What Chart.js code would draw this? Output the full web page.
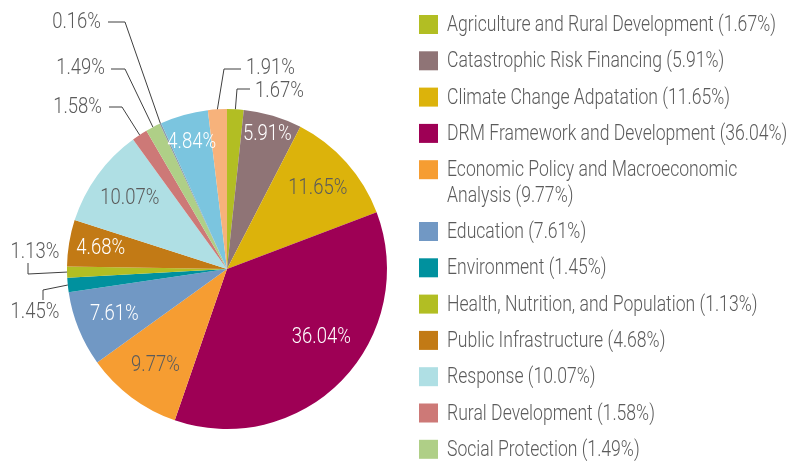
<!DOCTYPE html>
<html>
<head>
<meta charset="utf-8">
<script src="https://cdn.jsdelivr.net/npm/chart.js@4"></script>
<style>
  html, body { margin: 0; padding: 0; background: #fff; }
  #wrap { width: 787px; height: 461px; position: relative; }
</style>
</head>
<body>
<div id="wrap"><canvas id="myChart" width="787" height="461"></canvas></div>
<script>
// funding share by sector, clockwise from the top
const sectors = [
    "Agriculture and Rural Development",
    "Catastrophic Risk Financing",
    "Climate Change Adpatation",
    "DRM Framework and Development",
    "Economic Policy and Macroeconomic Analysis",
    "Education",
    "Environment",
    "Health, Nutrition, and Population",
    "Public Infrastructure",
    "Response",
    "Rural Development",
    "Social Protection",
    "Transport",
    "Urban Development",
    "Water"
];
const shares = [1.67, 5.91, 11.65, 36.04, 9.77, 7.61, 1.45, 1.13, 4.68, 10.07, 1.58, 1.49, 0.16, 4.84, 1.91];

const colors = [
    "#b2be23", "#8f7476", "#dcb30b", "#9e0055", "#f69d32",
    "#7198c4", "#00919e", "#b2be23", "#c27a15", "#afdfe4",
    "#cd7977", "#afcf87", "#8c9aa8", "#7bc5df", "#f7b27b"
];

const GREY = "#5b5b5b";
const FONT = "300 22px Roboto";
const SX_LEGEND = 0.80; // squeeze text horizontally for a condensed look
const SX_PIE = 0.84;

// label layout per slice: inside labels sit at a fraction of the radius,
// outside labels get a leader line through the listed points
const labelLayout = [
    { out: [[237, 89], [250, 89]], text: [255, 91], align: "left" },
    { r: 0.88, color: "#fff" },
    { r: 0.76, color: GREY },
    { r: 0.73, da: -8, color: "#fff" },
    { r: 0.75, color: GREY },
    { r: 0.76, color: "#fff" },
    { out: [[43, 290], [43, 300]], text: [35, 312], align: "center" },
    { out: [[28, 274], [28, 263]], text: [35, 252], align: "center" },
    { r: 0.8, color: "#fff" },
    { r: 0.75, color: GREY },
    { out: [[122, 107], [109, 107]], text: [102, 107], align: "right" },
    { out: [[125, 69], [111, 69]], text: [105, 68], align: "right" },
    { out: [[125, 22], [108, 22]], text: [101, 22], align: "right" },
    { r: 0.82, color: "#fff" },
    { out: [[224, 69], [241, 69]], text: [246, 68], align: "left" }
];

function squeezedText(ctx, text, x, y, align, color, sx) {
    ctx.save();
    ctx.translate(x, y);
    ctx.scale(sx, 1);
    ctx.fillStyle = color;
    ctx.textAlign = align;
    ctx.textBaseline = "middle";
    ctx.fillText(text, 0, 0);
    ctx.restore();
}

const pieLabels = {
    id: "pieLabels",
    afterDatasetsDraw(chart) {
        const ctx = chart.ctx;
        const arcs = chart.getDatasetMeta(0).data;
        ctx.save();
        ctx.font = FONT;
        arcs.forEach((arc, i) => {
            const spec = labelLayout[i];
            const txt = shares[i].toFixed(2) + "%";
            const mid = (arc.startAngle + arc.endAngle) / 2;
            if (spec.out) {
                const sx = arc.x + Math.cos(mid) * arc.outerRadius;
                const sy = arc.y + Math.sin(mid) * arc.outerRadius;
                ctx.beginPath();
                ctx.moveTo(sx, sy);
                spec.out.forEach(p => ctx.lineTo(p[0], p[1]));
                ctx.strokeStyle = "#3f3f3f";
                ctx.lineWidth = 1;
                ctx.stroke();
                squeezedText(ctx, txt, spec.text[0], spec.text[1], spec.align, GREY, SX_PIE);
            } else {
                const a = mid + (spec.da || 0) * Math.PI / 180;
                const rr = arc.outerRadius * spec.r;
                squeezedText(ctx, txt, arc.x + Math.cos(a) * rr, arc.y + Math.sin(a) * rr, "center", spec.color, SX_PIE);
            }
        });
        ctx.restore();
    }
};

// legend on the right, wrapping long names
const sideLegend = {
    id: "sideLegend",
    afterDraw(chart) {
        const ctx = chart.ctx;
        const boxX = 419, textX = 447, maxW = 350;
        const step = 36.3, lineH = 25.5;
        let y = 24.5;
        ctx.save();
        ctx.font = FONT;
        sectors.forEach((name, i) => {
            const words = (name + " (" + shares[i].toFixed(2) + "%)").split(" ");
            const lines = [];
            let line = "";
            words.forEach(w => {
                const test = line ? line + " " + w : w;
                if (line && ctx.measureText(test).width * SX_LEGEND > maxW) {
                    lines.push(line);
                    line = w;
                } else {
                    line = test;
                }
            });
            lines.push(line);
            ctx.fillStyle = colors[i];
            ctx.fillRect(boxX, y - 9.5, 19, 19);
            lines.forEach((l, k) => squeezedText(ctx, l, textX, y + k * lineH + 1, "left", GREY, SX_LEGEND));
            y += step + (lines.length - 1) * lineH;
        });
        ctx.restore();
    }
};

new Chart("myChart", {
    type: "pie",
    data: {
        labels: sectors,
        datasets: [{
            data: shares,
            backgroundColor: colors,
            borderWidth: 0
        }]
    },
    options: {
        responsive: false,
        animation: false,
        layout: { padding: { left: 67, top: 109, right: 400, bottom: 32 } },
        plugins: {
            legend: { display: false },
            tooltip: { enabled: false }
        }
    },
    plugins: [pieLabels, sideLegend]
});
</script>
</body>
</html>
